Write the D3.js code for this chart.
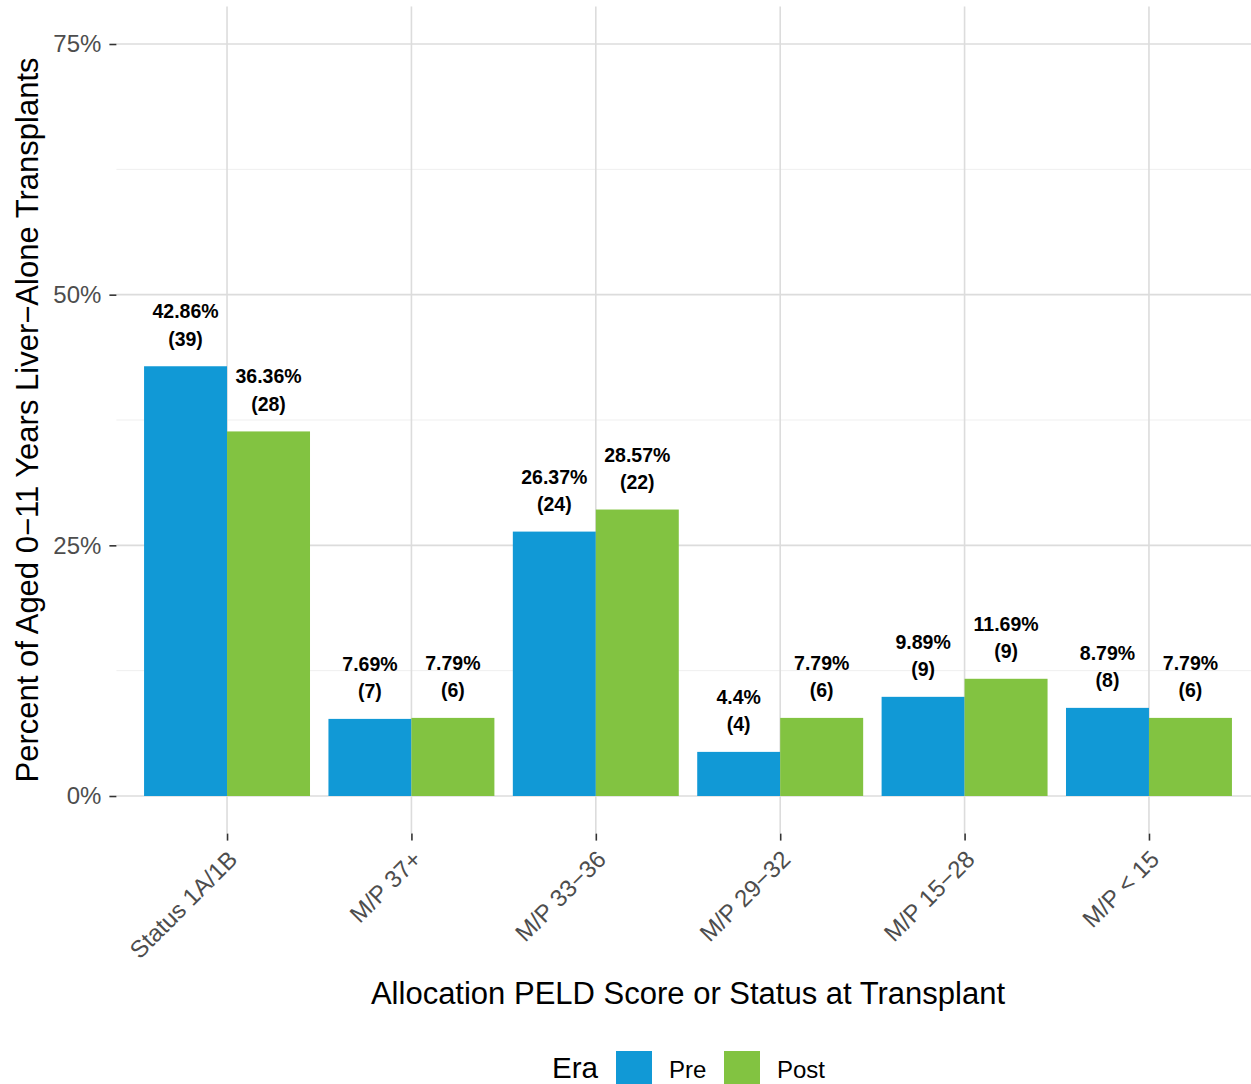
<!DOCTYPE html>
<html>
<head>
<meta charset="utf-8">
<script src="https://cdn.jsdelivr.net/npm/d3@7"></script>
<style>
  body { margin: 0; background: #fff; }
  text { font-family: "Liberation Sans", Arial, sans-serif; }
</style>
</head>
<body>
<div id="chart"></div>
<script>
// Data
var categories = ["Status 1A/1B", "M/P 37+", "M/P 33\u221236", "M/P 29\u221232", "M/P 15\u221228", "M/P < 15"];
var eras = ["Pre", "Post"];
var prePct = [42.86, 7.69, 26.37, 4.4, 9.89, 8.79];
var preN = [39, 7, 24, 4, 9, 8];
var postPct = [36.36, 7.79, 28.57, 7.79, 11.69, 7.79];
var postN = [28, 6, 22, 6, 9, 6];
var yTicks = [0, 25, 50, 75];
var yMinor = [12.5, 37.5, 62.5];
var colors = ["#1199d6", "#82c341"];

var svgWidth = 1251;
var svgHeight = 1084;

// Panel bounds (ggplot-style, y limits 0-75 with 5% expansion)
var panel = { left: 116.4, right: 1259.6, top: 6.4, bottom: 833.6 };

var svg = d3.select("#chart")
  .append("svg")
  .attr("width", svgWidth)
  .attr("height", svgHeight);

svg.append("rect")
  .attr("width", svgWidth)
  .attr("height", svgHeight)
  .attr("fill", "white");

var xScale = d3.scalePoint()
  .domain(categories)
  .range([panel.left, panel.right])
  .padding(0.6);

var step = xScale.step();

var eraScale = d3.scaleBand()
  .domain(eras)
  .range([-0.45 * step, 0.45 * step])
  .padding(0);

var yScale = d3.scaleLinear()
  .domain([-3.75, 78.75])
  .range([panel.bottom, panel.top]);

// flatten data
var rows = [];
categories.forEach(function(c, i) {
  rows.push({ cat: c, era: "Pre", pct: prePct[i], n: preN[i] });
  rows.push({ cat: c, era: "Post", pct: postPct[i], n: postN[i] });
});

var grid = svg.append("g");

// minor horizontal gridlines
grid.selectAll(".minor")
  .data(yMinor)
  .enter()
  .append("line")
  .attr("x1", panel.left).attr("x2", panel.right)
  .attr("y1", d => yScale(d)).attr("y2", d => yScale(d))
  .attr("stroke", "#efefef")
  .attr("stroke-width", 1);

// major horizontal gridlines
grid.selectAll(".major")
  .data(yTicks)
  .enter()
  .append("line")
  .attr("x1", panel.left).attr("x2", panel.right)
  .attr("y1", d => yScale(d)).attr("y2", d => yScale(d))
  .attr("stroke", "#dcdcdc")
  .attr("stroke-width", 1.6);

// vertical gridlines
grid.selectAll(".vert")
  .data(categories)
  .enter()
  .append("line")
  .attr("x1", d => xScale(d)).attr("x2", d => xScale(d))
  .attr("y1", panel.top).attr("y2", panel.bottom)
  .attr("stroke", "#dcdcdc")
  .attr("stroke-width", 1.6);

// bars
svg.append("g")
  .selectAll("rect")
  .data(rows)
  .enter()
  .append("rect")
  .attr("x", d => xScale(d.cat) + eraScale(d.era))
  .attr("y", d => yScale(d.pct))
  .attr("width", eraScale.bandwidth())
  .attr("height", d => yScale(0) - yScale(d.pct))
  .attr("fill", d => colors[eras.indexOf(d.era)]);

// bar labels
var labels = svg.append("g")
  .selectAll("text")
  .data(rows)
  .enter()
  .append("text")
  .attr("text-anchor", "middle")
  .attr("font-size", "19.5px")
  .attr("font-weight", "bold")
  .attr("fill", "black");

labels.append("tspan")
  .attr("x", d => xScale(d.cat) + eraScale(d.era) + eraScale.bandwidth() / 2)
  .attr("y", d => yScale(d.pct) - 48)
  .text(d => d.pct + "%");

labels.append("tspan")
  .attr("x", d => xScale(d.cat) + eraScale(d.era) + eraScale.bandwidth() / 2)
  .attr("y", d => yScale(d.pct) - 20.5)
  .text(d => "(" + d.n + ")");

// y axis
var yAxis = svg.append("g")
  .attr("transform", `translate(${panel.left}, 0)`)
  .call(d3.axisLeft(yScale).tickValues(yTicks).tickFormat(d => d + "%").tickSize(7).tickPadding(8));

yAxis.select(".domain").remove();
yAxis.selectAll("line").attr("stroke", "#333333").attr("stroke-width", 1.6);
yAxis.selectAll("text")
  .attr("font-size", "24px")
  .attr("fill", "#4d4d4d")
  .attr("font-family", "Liberation Sans, Arial, sans-serif");

// x axis
var xAxis = svg.append("g")
  .attr("transform", `translate(0, ${panel.bottom})`)
  .call(d3.axisBottom(xScale).tickSize(7).tickPadding(0));

xAxis.select(".domain").remove();
xAxis.selectAll("line").attr("stroke", "#333333").attr("stroke-width", 1.6);
xAxis.selectAll("text")
  .attr("font-size", "24px")
  .attr("fill", "#4d4d4d")
  .attr("font-family", "Liberation Sans, Arial, sans-serif")
  .attr("text-anchor", "end")
  .attr("y", 0)
  .attr("dy", "0.72em")
  .attr("transform", "translate(-1, 15) rotate(-45)");

// axis titles
svg.append("text")
  .attr("x", (panel.left + panel.right) / 2)
  .attr("y", 1004)
  .attr("text-anchor", "middle")
  .attr("font-size", "31px")
  .attr("fill", "black")
  .text("Allocation PELD Score or Status at Transplant");

svg.append("text")
  .attr("transform", `translate(38, ${(panel.top + panel.bottom) / 2}) rotate(-90)`)
  .attr("text-anchor", "middle")
  .attr("font-size", "31px")
  .attr("fill", "black")
  .text("Percent of Aged 0\u221211 Years Liver\u2212Alone Transplants");

// legend
var legend = svg.append("g");

legend.append("text")
  .attr("x", 552)
  .attr("y", 1078)
  .attr("font-size", "29.6px")
  .attr("fill", "black")
  .text("Era");

var keyX = [616, 724];
var keys = legend.selectAll(".key")
  .data(eras)
  .enter()
  .append("g");

keys.append("rect")
  .attr("x", (d, i) => keyX[i])
  .attr("y", 1051)
  .attr("width", 36)
  .attr("height", 36)
  .attr("fill", (d, i) => colors[i]);

keys.append("text")
  .attr("x", (d, i) => keyX[i] + 53)
  .attr("y", 1078)
  .attr("font-size", "24px")
  .attr("fill", "black")
  .text(d => d);
</script>
</body>
</html>
